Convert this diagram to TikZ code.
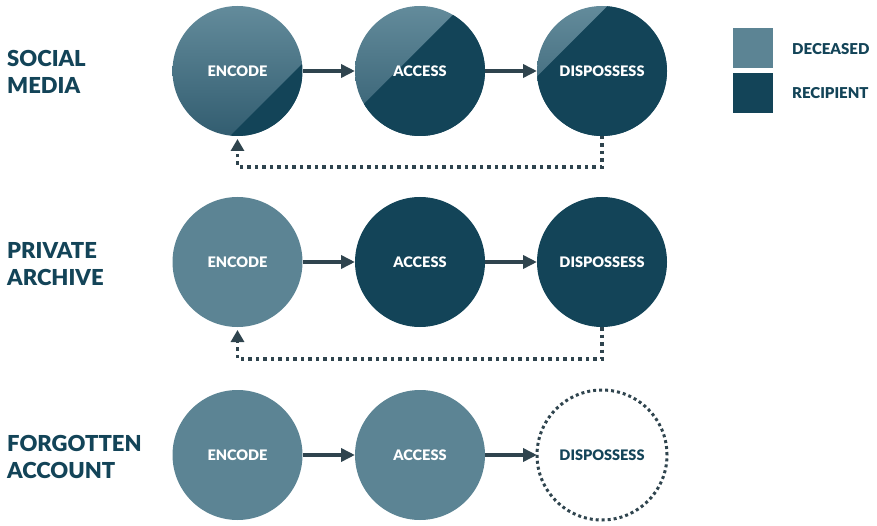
\documentclass[tikz,border=0pt]{standalone}
\usepackage{fontspec}
\setmainfont{Lato}[BoldFont={Lato Black}]
\usetikzlibrary{arrows.meta,calc,backgrounds}
\definecolor{lightc}{HTML}{5C8494}
\definecolor{lightA}{HTML}{638B9B}
\definecolor{lightB}{HTML}{325D70}
\definecolor{darkc}{HTML}{134458}
\definecolor{arrc}{HTML}{2F444E}
\newcommand\splitfill[2]{%
  \begin{scope}
    \clip (#1.center) circle[radius=65pt];
    \shade[shading angle=45, top color=lightA, bottom color=lightB]
      ($(#1.center)+(-65pt,-65pt)$) rectangle ($(#1.center)+(65pt,65pt)$);
    \fill[darkc]
      ($(#1.center)+({0.7071*(#2+100)*1pt},{0.7071*(100-#2)*1pt})$) --
      ($(#1.center)+({0.7071*(#2-100)*1pt},{0.7071*(-100-#2)*1pt})$) --
      ($(#1.center)+(35pt,-177pt)$) --
      ($(#1.center)+(177pt,-35pt)$) -- cycle;
  \end{scope}}
\tikzset{
  stage/.style={circle, minimum size=130pt, inner sep=0pt, outer sep=0pt, text=white, font=\fontsize{14.5}{16}\selectfont\bfseries},
  deceased/.style={stage, fill=lightc},
  recipient/.style={stage, fill=darkc},
  ghost/.style={stage, draw=arrc, line width=3pt, dash pattern=on 3pt off 3pt, text=darkc},
  flow/.style={draw=arrc, line width=3.5pt, -{Triangle[length=14pt,width=13pt]}},
  back/.style={draw=arrc, line width=3.5pt, dash pattern=on 3.5pt off 4pt, -{Triangle[length=12pt,width=13pt]}, shorten >=3pt},
  rowlabel/.style={anchor=west, align=left, inner sep=0pt, text=darkc, font=\fontsize{22}{27}\selectfont\bfseries},
  legtext/.style={anchor=west, inner sep=0pt, text=darkc, font=\fontsize{15}{16}\selectfont\bfseries},
  legbox/.style={minimum size=40pt, inner sep=0pt}
}
\begin{document}
\begin{tikzpicture}[x=1pt,y=-1pt]
\useasboundingbox (0,0) rectangle (877,526);
% row labels
\node[rowlabel] (l1) at (7,72) {SOCIAL\\MEDIA};
\node[rowlabel] (l2) at (7,264) {PRIVATE\\ARCHIVE};
\node[rowlabel] (l3) at (7,457) {FORGOTTEN\\ACCOUNT};
% row 1
\node[stage] (e1) at (237.5,71) {ENCODE};
\node[stage] (a1) at (420,71) {ACCESS};
\node[stage] (d1) at (602,71) {DISPOSSESS};
\begin{scope}[on background layer]
  \splitfill{e1}{40.7}
  \splitfill{a1}{-16.3}
  \splitfill{d1}{-42}
\end{scope}
\draw[flow] (e1) -- (a1);
\draw[flow] (a1) -- (d1);
\coordinate (f1) at (0,167);
\draw[back] (d1.south) -- (d1.south |- f1) -| (e1.south);
% row 2
\node[deceased] (e2) at (237.5,262) {ENCODE};
\node[recipient] (a2) at (420,262) {ACCESS};
\node[recipient] (d2) at (602,262) {DISPOSSESS};
\draw[flow] (e2) -- (a2);
\draw[flow] (a2) -- (d2);
\coordinate (f2) at (0,359);
\draw[back] (d2.south) -- (d2.south |- f2) -| (e2.south);
% row 3
\node[deceased] (e3) at (237.5,455) {ENCODE};
\node[deceased] (a3) at (420,455) {ACCESS};
\node[ghost] (d3) at (602,455) {DISPOSSESS};
\draw[flow] (e3) -- (a3);
\draw[flow] (a3) -- (d3);
% legend
\node[legbox, fill=lightc] (k1) at (753,48) {};
\node[legbox, fill=darkc] (k2) at (753,93.5) {};
\node[legtext] (t1) at (792,49) {DECEASED};
\node[legtext] (t2) at (792,93.5) {RECIPIENT};
\end{tikzpicture}
\end{document}
